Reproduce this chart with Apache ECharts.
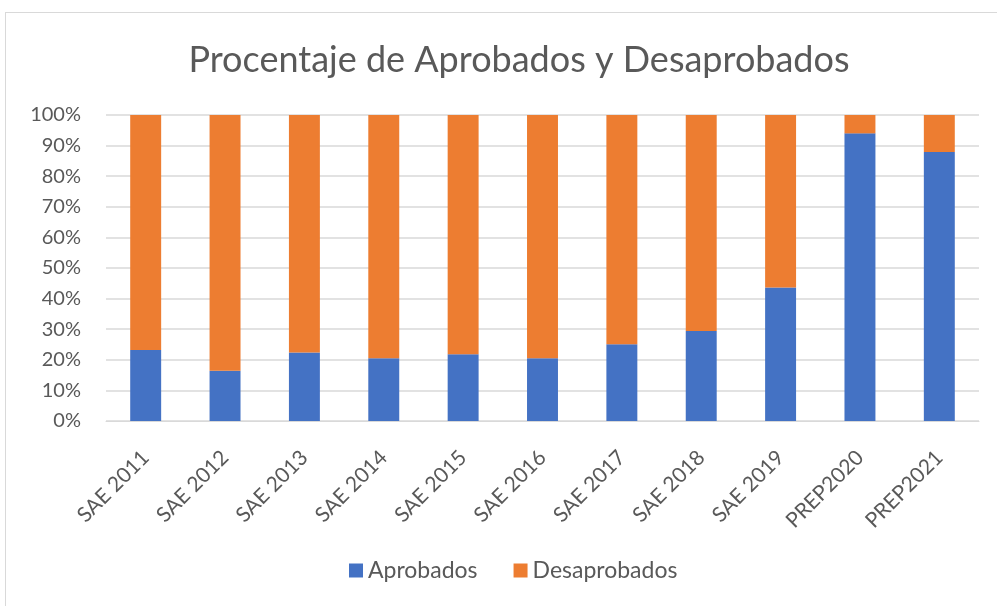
<!DOCTYPE html>
<html>
<head>
<meta charset="utf-8">
<script src="https://cdn.jsdelivr.net/npm/echarts@6/dist/echarts.min.js"></script>
<style>
  html, body { margin: 0; padding: 0; background: #fff; }
  #frame { position: absolute; left: 5px; top: 12px; width: 1000px; height: 600px; border: 1px solid #d9d9d9; }
  #chart { position: absolute; left: 0; top: 0; width: 997px; height: 606px; }
</style>
</head>
<body>
<div id="frame"></div>
<div id="chart"></div>
<script>
  // categories and values (percent)
  const categories = ['SAE 2011', 'SAE 2012', 'SAE 2013', 'SAE 2014', 'SAE 2015', 'SAE 2016',
    'SAE 2017', 'SAE 2018', 'SAE 2019', 'PREP2020', 'PREP2021'];
  const aprobados = [23.2, 16.4, 22.4, 20.5, 21.8, 20.5, 25.1, 29.4, 43.6, 94.0, 87.9];
  const desaprobados = [76.8, 83.6, 77.6, 79.5, 78.2, 79.5, 74.9, 70.6, 56.4, 6.0, 12.1];

  const font = 'Lato, "Open Sans", sans-serif';
  let myChart = echarts.init(document.getElementById('chart'));
  myChart.setOption({
    textStyle: { fontFamily: font },
    title: {
      text: 'Procentaje de Aprobados y Desaprobados',
      left: 514,
      textAlign: 'center',
      top: 37,
      textStyle: { fontFamily: font, fontSize: 36, fontWeight: 'normal', color: '#595959' }
    },
    legend: {
      top: 554,
      left: 344,
      itemWidth: 14,
      itemHeight: 14,
      itemGap: 36,
      icon: 'rect',
      textStyle: { fontFamily: font, fontSize: 23, color: '#595959' },
      data: ['Aprobados', 'Desaprobados']
    },
    grid: { left: 106, right: 18, top: 115, bottom: 185 },
    xAxis: {
      type: 'category',
      data: categories,
      axisLine: { lineStyle: { color: '#d9d9d9' } },
      axisTick: { show: false },
      axisLabel: { rotate: 45, color: '#595959', fontSize: 21, margin: 33, interval: 0 }
    },
    yAxis: {
      type: 'value',
      min: 0,
      max: 100,
      interval: 10,
      axisLine: { show: false },
      axisTick: { show: false },
      splitLine: { lineStyle: { color: '#d9d9d9', width: 1.5 } },
      axisLabel: { formatter: '{value}%', color: '#595959', fontSize: 20, margin: 25 }
    },
    series: [
      {
        name: 'Aprobados',
        type: 'bar',
        stack: 'total',
        barWidth: '39%',
        itemStyle: { color: '#4472c4' },
        data: aprobados
      },
      {
        name: 'Desaprobados',
        type: 'bar',
        stack: 'total',
        barWidth: '39%',
        itemStyle: { color: '#ed7d31' },
        data: desaprobados
      }
    ]
  });
</script>
</body>
</html>
